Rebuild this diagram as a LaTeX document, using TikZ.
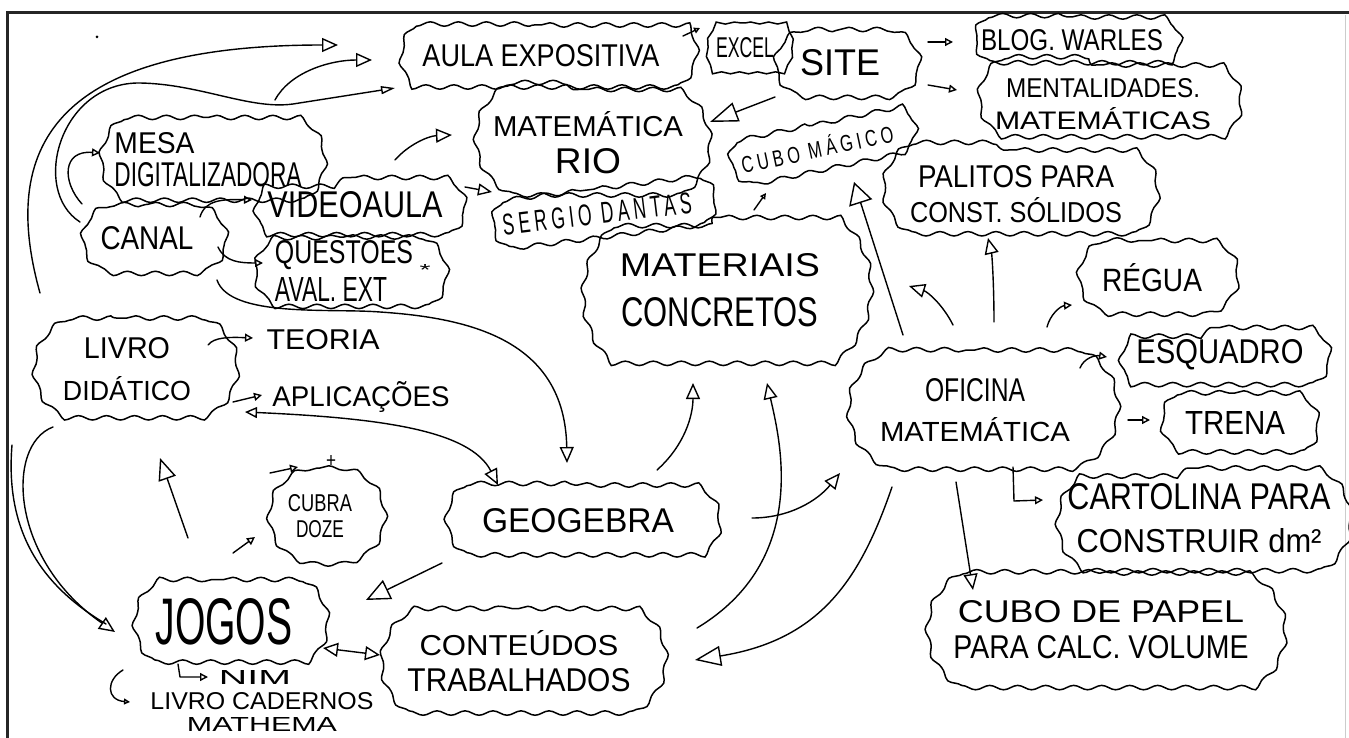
\documentclass[tikz,border=0pt]{standalone}
\usepackage{graphicx}
\usepackage{fontspec}
\setmainfont{Liberation Sans}
\newfontfamily\spaced[LetterSpace=25]{Liberation Sans}
\usetikzlibrary{arrows.meta,decorations.pathmorphing,shapes.misc}
\newcommand{\hw}[3]{\resizebox{#1pt}{#2pt}{#3}}
\begin{document}
\begin{tikzpicture}[x=1pt,y=-1pt,
  cloudbox/.style={draw, line width=1.5pt, shape=rounded rectangle, rounded rectangle arc length=#1,
     inner sep=0pt, align=center,
     decorate, decoration={snake, amplitude=2.2pt, segment length=28pt}},
  cloudbox/.default=120,
  conn/.style={line width=1.4pt, line cap=round, line join=round},
  bigtip/.style={-{Triangle[open, length=24pt, width=21pt]}},
  medtip/.style={-{Triangle[open, length=16pt, width=14pt]}},
  smalltip/.style={-{Triangle[open, length=8pt, width=8pt]}},
  tinytip/.style={-{Triangle[open, length=6pt, width=6pt]}},
  lbl/.style={inner sep=0pt}
]
\fill[white] (0,0) rectangle (1349,738);
\useasboundingbox (0,0) rectangle (1349,738);
% frame
\draw[line width=3pt, black!85] (7,740) -- (7,13) -- (1351,13);
\draw[line width=1pt, black!20] (1345,15) -- (1345,738);
\fill (97,37) circle (1.5pt);

% ---------- nodes ----------
\node[cloudbox=90, minimum width=298pt, minimum height=62pt] (aula) at (541,56) {\hw{237}{22}{AULA EXPOSITIVA}};
\node[cloudbox=70, decoration={snake, amplitude=1pt, segment length=18pt}, minimum width=72pt, minimum height=50pt] (excel) at (745,48) {\hw{58}{20}{EXCEL}};
\node[cloudbox=160, minimum width=145pt, minimum height=67pt] (site) at (840,63) {\hw{80}{26}{SITE}};
\node[cloudbox, minimum width=206pt, minimum height=46pt] (blog) at (1072,40) {\hw{182}{21}{BLOG. WARLES}};
\node[cloudbox, minimum width=264pt, minimum height=78pt] (ment) at (1103,104) {\hw{194}{19}{MENTALIDADES.}\\[9pt]\hw{216}{22}{MATEMÁTICAS}};
\node[cloudbox, minimum width=233pt, minimum height=107pt] (matrio) at (588,143) {\hw{190}{25}{MATEMÁTICA}\\[11pt]\hw{66}{25}{RIO}};
\node[cloudbox, rotate=12, minimum width=190pt, minimum height=46pt] (cubomag) at (817,148) {\hw{155}{20}{\spaced CUBO MÁGICO}};
\node[cloudbox, rotate=7, minimum width=222pt, minimum height=50pt] (sergio) at (597,214) {\hw{190}{21}{\spaced SERGIO DANTAS}};
\node[cloudbox, align=left, minimum width=223pt, minimum height=85pt] (mesa) at (208,160) {\hw{80}{21}{MESA}\\[8pt]\hw{187}{24}{DIGITALIZADORA}};
\node[cloudbox, minimum width=210pt, minimum height=55pt] (video) at (355,205) {\hw{175}{26}{VIDEOAULA}};
\node[cloudbox=150, minimum width=145pt, minimum height=67pt] (canal) at (147,238) {\hw{93}{23}{CANAL}};
\node[cloudbox, align=left, minimum width=192pt, minimum height=68pt] (quest) at (344,271) {\hw{138}{23}{QUESTOES}\\[6pt]\hw{112}{24}{AVAL. EXT}};
\node[lbl] (star1) at (425,270) {\hw{11}{11}{*}};
\node[cloudbox=100, minimum width=291pt, minimum height=145pt] (mater) at (720,290) {\hw{200}{23}{MATERIAIS}\\[20pt]\hw{197}{29}{CONCRETOS}};
\node[cloudbox, minimum width=272pt, minimum height=88pt] (palitos) at (1016,194) {\hw{196}{22}{PALITOS PARA}\\[9pt]\hw{212}{25}{CONST. SÓLIDOS}};
\node[cloudbox=150, minimum width=160pt, minimum height=75pt] (regua) at (1152,278) {\hw{100}{28}{RÉGUA}};
\node[cloudbox=140, minimum width=205pt, minimum height=102pt] (livro) at (127,369) {\hw{86}{21}{LIVRO}\\[17pt]\hw{128}{24}{DIDÁTICO}};
\node[lbl] (teoria) at (323,340) {\hw{113}{20}{TEORIA}};
\node[lbl] (aplic) at (361,397) {\hw{177}{25}{APLICAÇÕES}};
\node[cloudbox=140, minimum width=270pt, minimum height=120pt] (ofic) at (975,410) {\hw{100}{23}{OFICINA}\\[15pt]\hw{190}{24}{MATEMÁTICA}};
\node[cloudbox, minimum width=209pt, minimum height=55pt] (esq) at (1220,355) {\hw{167}{24}{ESQUADRO}};
\node[cloudbox, minimum width=156pt, minimum height=60pt] (trena) at (1235,423) {\hw{100}{23}{TRENA}};
\node[cloudbox, minimum width=294pt, minimum height=100pt] (cart) at (1199,518) {\hw{263}{26}{CARTOLINA PARA}\\[17pt]\hw{245}{24}{CONSTRUIR dm²}};
\node[cloudbox, minimum width=358pt, minimum height=114pt] (cubop) at (1101,630) {\hw{286}{22}{CUBO DE PAPEL}\\[12pt]\hw{295}{23}{PARA CALC. VOLUME}};
\node[cloudbox, minimum width=273pt, minimum height=72pt] (geo) at (578,521) {\hw{192}{24}{GEOGEBRA}};
\node[cloudbox=170, minimum width=116pt, minimum height=96pt] (cubra) at (320,516) {\hw{64}{17}{CUBRA}\\[8pt]\hw{48}{17}{DOZE}};
\node[lbl] (plus) at (331,461) {\hw{10}{12}{+}};
\node[cloudbox, minimum width=192pt, minimum height=85pt] (jogos) at (224,622) {\hw{137}{46}{JOGOS}};
\node[cloudbox, minimum width=282pt, minimum height=105pt] (cont) at (519,661) {\hw{199}{25}{CONTEÚDOS}\\[12pt]\hw{223}{23}{TRABALHADOS}};
\node[lbl] (nim) at (255,677) {\hw{72}{14}{NIM}};
\node[lbl, align=center] (cad) at (262,712) {\hw{223}{17}{LIVRO CADERNOS}\\[6pt]\hw{150}{14}{MATHEMA}};

% ---------- connector end points ----------
\coordinate (c1s) at (40,293);   \coordinate (c1e) at (338,45);
\coordinate (c2s) at (275,100);  \coordinate (c2e) at (372,60);
\coordinate (c3s) at (80,222);   \coordinate (c3e) at (395,88);
\coordinate (c4s) at (82,204);   \coordinate (c4e) at (100,153);
\coordinate (c5s) at (200,217);  \coordinate (c5e) at (252,200);
\coordinate (c6s) at (218,247);  \coordinate (c6e) at (263,263);
\coordinate (c7s) at (217,280);  \coordinate (c7e) at (567,463);
\coordinate (c8s) at (245,412);  \coordinate (c8e) at (498,485);
\coordinate (c9s) at (208,345);  \coordinate (c9e) at (253,338);
\coordinate (c10s) at (233,402); \coordinate (c10e) at (262,395);
\coordinate (c11s) at (53,427);  \coordinate (c11e) at (115,632);
\coordinate (c11t) at (12,445);  \coordinate (c11u) at (106,624);
\coordinate (c12s) at (188,538); \coordinate (c12e) at (160,458);
\coordinate (c13s) at (270,473); \coordinate (c13e) at (298,467);
\coordinate (c13t) at (233,553); \coordinate (c13u) at (255,537);
\coordinate (c14s) at (442,563); \coordinate (c14e) at (366,600);
\coordinate (c15s) at (323,648); \coordinate (c15e) at (380,655);
\coordinate (c16s) at (178,664); \coordinate (c16e) at (208,677);
\coordinate (c17s) at (123,670); \coordinate (c17e) at (130,702);
\coordinate (c18s) at (657,470); \coordinate (c18e) at (693,383);
\coordinate (c19s) at (697,628); \coordinate (c19e) at (767,383);
\coordinate (c20s) at (752,518); \coordinate (c20e) at (840,473);
\coordinate (c21s) at (892,487); \coordinate (c21e) at (695,660);
\coordinate (c22s) at (956,482); \coordinate (c22e) at (973,590);
\coordinate (c23s) at (1013,467);\coordinate (c23e) at (1043,500);
\coordinate (c24s) at (1128,420);\coordinate (c24e) at (1150,420);
\coordinate (c25s) at (1080,368);\coordinate (c25e) at (1107,357);
\coordinate (c26s) at (1047,327);\coordinate (c26e) at (1072,305);
\coordinate (c27s) at (994,322); \coordinate (c27e) at (988,238);
\coordinate (c28s) at (903,335); \coordinate (c28e) at (854,182);
\coordinate (c29s) at (953,325); \coordinate (c29e) at (909,286);
\coordinate (c30s) at (928,42);  \coordinate (c30e) at (953,42);
\coordinate (c31s) at (928,85);  \coordinate (c31e) at (957,90);
\coordinate (c32s) at (775,97);  \coordinate (c32e) at (710,122);
\coordinate (c33s) at (683,36);  \coordinate (c33e) at (700,28);
\coordinate (c34s) at (395,160); \coordinate (c34e) at (452,135);
\coordinate (c35s) at (465,187); \coordinate (c35e) at (492,192);
\coordinate (c36s) at (754,210); \coordinate (c36e) at (766,193);

% ---------- connectors ----------
\draw[conn, medtip] (c1s) .. controls (0,150) and (50,45) .. (c1e);
\draw[conn, medtip] (c2s) .. controls (290,72) and (330,60) .. (c2e);
\draw[conn, -{Triangle[open, length=14pt, width=8pt]}] (c3s) .. controls (30,190) and (60,82) .. (140,83) .. controls (200,84) and (250,110) .. (293,104) -- (c3e);
\draw[conn, smalltip] (c4s) .. controls (62,182) and (62,150) .. (c4e);
\draw[conn, smalltip] (c5s) .. controls (205,200) and (222,199) .. (c5e);
\draw[conn, smalltip] (c6s) .. controls (225,262) and (240,263) .. (c6e);
\draw[conn, medtip] (c7s) .. controls (230,318) and (330,308) .. (380,312) .. controls (470,318) and (565,340) .. (c7e);
\draw[conn, {Triangle[open, length=12pt, width=11pt]}-{Triangle[open, length=16pt, width=14pt]}] (c8s) .. controls (380,418) and (470,430) .. (c8e);
\draw[conn, smalltip] (c9s) .. controls (214,337) and (230,337) .. (c9e);
\draw[conn, smalltip] (c10s) -- (c10e);
\draw[conn, medtip] (c11s) .. controls (5,445) and (10,560) .. (c11e);
\draw[conn] (c11t) .. controls (5,530) and (40,585) .. (c11u);
\draw[conn, -{Triangle[open, length=22pt, width=18pt]}] (c12s) -- (c12e);
\draw[conn, smalltip] (c13s) -- (c13e);
\draw[conn, smalltip] (c13t) -- (c13u);
\draw[conn, bigtip] (c14s) -- (c14e);
\draw[conn, {Triangle[open, length=15pt, width=14pt]}-{Triangle[open, length=15pt, width=14pt]}] (c15s) -- (c15e);
\draw[conn, smalltip] (c16s) -- (180,677) -- (c16e);
\draw[conn, tinytip] (c17s) .. controls (106,680) and (106,700) .. (c17e);
\draw[conn, medtip] (c18s) .. controls (685,445) and (693,415) .. (c18e);
\draw[conn, medtip] (c19s) .. controls (810,560) and (780,440) .. (c19e);
\draw[conn, medtip] (c20s) .. controls (790,518) and (818,500) .. (c20e);
\draw[conn, -{Triangle[open, length=26pt, width=20pt]}] (c21s) .. controls (860,580) and (820,640) .. (c21e);
\draw[conn, medtip] (c22s) -- (c22e);
\draw[conn, smalltip] (c23s) -- (1014,501) -- (c23e);
\draw[conn, smalltip] (c24s) -- (c24e);
\draw[conn, smalltip] (c25s) .. controls (1084,358) and (1095,355) .. (c25e);
\draw[conn, smalltip] (c26s) .. controls (1050,315) and (1060,306) .. (c26e);
\draw[conn, medtip] (c27s) .. controls (994,285) and (992,255) .. (c27e);
\draw[conn, -{Triangle[open, length=22pt, width=24pt]}] (c28s) -- (c28e);
\draw[conn, medtip] (c29s) .. controls (943,305) and (928,292) .. (c29e);
\draw[conn, smalltip] (c30s) -- (c30e);
\draw[conn, smalltip] (c31s) -- (c31e);
\draw[conn, -{Triangle[open, length=28pt, width=20pt]}] (c32s) -- (c32e);
\draw[conn, tinytip] (c33s) -- (c33e);
\draw[conn, medtip] (c34s) .. controls (408,145) and (428,136) .. (c34e);
\draw[conn, -{Triangle[open, length=14pt, width=12pt]}] (c35s) -- (c35e);
\draw[conn, tinytip] (c36s) -- (c36e);
\end{tikzpicture}
\end{document}
